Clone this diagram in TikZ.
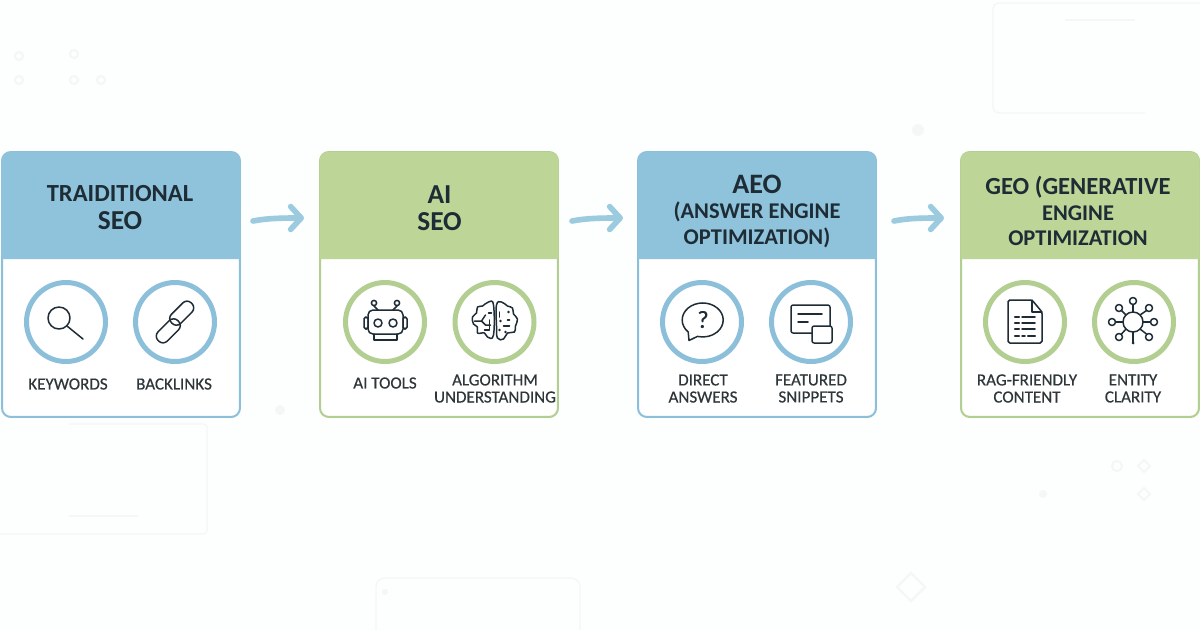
\documentclass[tikz,border=0pt]{standalone}
\usepackage{fontspec}
\usepackage{color}
\usetikzlibrary{arrows.meta}
\setmainfont{Carlito}
\newfontfamily\tagfont[FakeBold=0.4]{Carlito}

\definecolor{pagecol}{HTML}{FDFEFE}
\definecolor{faintcol}{HTML}{F5F7F7}
\definecolor{bluehead}{HTML}{8FC3DC}
\definecolor{blueline}{HTML}{8CC0DA}
\definecolor{greenhead}{HTML}{BDD697}
\definecolor{greenline}{HTML}{B2CE90}
\definecolor{arrowcol}{HTML}{9CCBE0}
\definecolor{inkcol}{HTML}{1E2C35}
\definecolor{labelcol}{HTML}{2E3639}

\begin{document}
\begin{tikzpicture}[%
      x=0.02cm,
      y=-0.02cm,
      card/.style={draw,fill=white,line width=1.15pt,rounded corners=5pt,inner sep=0pt,minimum width=4.76cm,minimum height=5.3cm},
      ring/.style={circle,draw,fill=white,line width=2.85pt,inner sep=0pt,minimum size=1.58cm},
      title/.style={align=center,text=inkcol,font=\fontsize{15.6}{15.4}\selectfont\bfseries},
      longtitle/.style={align=center,text=inkcol,font=\fontsize{12.8}{14.5}\selectfont\bfseries},
      tag/.style={align=center,text=labelcol,font=\fontsize{9.7}{9.7}\selectfont\tagfont},
      icon/.style={draw=inkcol,line width=0.85pt,line cap=round,line join=round},
      flow/.style={draw=arrowcol,line width=3.2pt,line cap=round,-{Straight Barb[round,length=6pt,width=13pt]}},
      faint/.style={draw=faintcol,line width=0.8pt},
      ]
      \fill [pagecol] (0,0) rectangle (1200,630);
      \useasboundingbox (0,0) rectangle (1200,630);

      % faint background marks
      \draw [faint,rounded corners=3pt] (1200,3) -- (993,3) -- (993,113) -- (1145,113);
      \draw [faint] (1065,20) -- (1135,20);
      \draw [faint,rounded corners=2pt] (69,424) -- (207,424) -- (207,534) -- (0,534);
      \draw [faint] (69,516) -- (138,516);
      \draw [faint,rounded corners=5pt] (376,630) -- (376,578) -- (580,578) -- (580,630);
      \fill [faintcol] (918,130) circle (6);
      \fill [faintcol] (280,410) circle (5);
      \fill [faintcol] (385,592) circle (3);
      \draw [faint,line width=1.2pt] (19,56) circle (4);
      \draw [faint,line width=1.2pt] (74,54) circle (4);
      \draw [faint,line width=1.2pt] (19,80) circle (4);
      \draw [faint,line width=1.2pt] (74,80) circle (4);
      \draw [faint,line width=1.2pt] (101,80) circle (4);
      \draw [faint,line width=1.2pt] (1117,466) circle (5);
      \draw [faint,line width=1.2pt] (1144,460) -- (1150,466) -- (1144,472) -- (1138,466) -- cycle;
      \draw [faint,line width=1.2pt] (1144,488) -- (1150,494) -- (1144,500) -- (1138,494) -- cycle;
      \fill [faintcol] (1043,494) circle (4);
      \draw [faint,line width=1.4pt] (911,573) -- (925,587) -- (911,601) -- (897,587) -- cycle;

      % cards
      \node [card,draw=blueline] (card1) at (121,284.5) {};
      \node [card,draw=greenline] (card2) at (439,284.5) {};
      \node [card,draw=blueline] (card3) at (757,284.5) {};
      \node [card,draw=greenline] (card4) at (1080,284.5) {};

      \fill [bluehead] (1.5,259) [rounded corners=5pt] -- (1.5,152) -- (240.5,152) [sharp corners] -- (240.5,259) -- cycle;
      \fill [greenhead] (319.5,259) [rounded corners=5pt] -- (319.5,152) -- (558.5,152) [sharp corners] -- (558.5,259) -- cycle;
      \fill [bluehead] (638,259) [rounded corners=5pt] -- (638,152) -- (876,152) [sharp corners] -- (876,259) -- cycle;
      \fill [greenhead] (960.5,259) [rounded corners=5pt] -- (960.5,152) -- (1199.5,152) [sharp corners] -- (1199.5,259) -- cycle;

      \node [title] (head1) at (120,207.5) {{\fontsize{14}{15.4}\selectfont TRAIDITIONAL}\\SEO};
      \node [title] (head2) at (439.5,208) {AI\\SEO};
      \node [longtitle] (head3) at (757,211) {{\fontsize{16}{14.5}\selectfont AEO}\\(ANSWER ENGINE\\OPTIMIZATION)};
      \node [longtitle] (head4) at (1078,211) {{\fontsize{14}{14.5}\selectfont GEO (GENERATIVE}\\ENGINE\\OPTIMIZATION};

      \draw [flow] ([shift={(12,70)}]card1.north east) .. controls (268,218) and (285,218) .. ([shift={(-15,67)}]card2.north west);
      \draw [flow] ([shift={(13,70)}]card2.north east) .. controls (587,218) and (604,218) .. ([shift={(-14,67)}]card3.north west);
      \draw [flow] ([shift={(17,70)}]card3.north east) .. controls (908,218) and (925,218) .. ([shift={(-16,67)}]card4.north west);

      % rings
      \node [ring,draw=blueline] (ring1a) at (66,322) {};
      \node [ring,draw=blueline] (ring1b) at (175,322) {};
      \node [ring,draw=greenline] (ring2a) at (385,322) {};
      \node [ring,draw=greenline] (ring2b) at (494.5,322) {};
      \node [ring,draw=blueline] (ring3a) at (702,322) {};
      \node [ring,draw=blueline] (ring3b) at (811,322) {};
      \node [ring,draw=greenline] (ring4a) at (1025,322) {};
      \node [ring,draw=greenline] (ring4b) at (1134,322) {};

      % labels
      \node [tag] (tag1a) at (68,384) {KEYWORDS};
      \node [tag] (tag1b) at (174,384) {BACKLINKS};
      \node [tag] (tag2a) at (385,383) {AI TOOLS};
      \node [tag] (tag2b) at (495,388.5) {ALGORITHM\\UNDERSTANDING};
      \node [tag] (tag3a) at (703,388.5) {DIRECT\\ANSWERS};
      \node [tag] (tag3b) at (811,388.5) {FEATURED\\SNIPPETS};
      \node [tag] (tag4a) at (1027,388.5) {RAG-FRIENDLY\\CONTENT};
      \node [tag] (tag4b) at (1133,388.5) {ENTITY\\CLARITY};

      % magnifier
      \begin{scope}[shift={(66,322)}]
      \draw [icon] (-7,-4) circle (11);
      \draw [icon] (1,4) -- (17,17);
      \end{scope}

      % chain
      \begin{scope}[shift={(175,322)}]
      \draw [icon,rounded corners=3.4pt,rotate=45] (-25,-5) rectangle (3,8);
      \draw [icon,rounded corners=3.4pt,rotate=45] (-3,-8) rectangle (25,5);
      \end{scope}

      % robot
      \begin{scope}[shift={(385,322)}]
      \draw [icon,rounded corners=2.8pt] (-17,-12) rectangle (18,12);
      \draw [icon,rounded corners=1pt] (-21,-5) rectangle (-17,7);
      \draw [icon,rounded corners=1pt] (18,-5) rectangle (22,7);
      \draw [icon] (-11,12) -- (-11,18) -- (12,18) -- (12,12);
      \draw [icon] (-11,-16) -- (-7,-12);
      \draw [icon] (12,-16) -- (8,-12);
      \draw [icon] (-11,-19) circle (2.6);
      \draw [icon] (12,-19) circle (2.6);
      \draw [icon] (-7,1) circle (4);
      \draw [icon] (8,1) circle (4);
      \end{scope}

      % brain
      \begin{scope}[shift={(494.5,322)}]
      \draw [icon] plot [smooth cycle,tension=0.7] coordinates {(-1,-17) (-6,-20) (-12,-16) (-17,-15) (-18,-9) (-22,-5) (-21,2) (-17,5) (-17,11) (-10,11) (-7,15) (-1,13)};
      \draw [icon] plot [smooth cycle,tension=0.7] coordinates {(2,-17) (7,-20) (13,-16) (18,-14) (19,-8) (23,-3) (21,4) (20,10) (13,11) (9,17) (3,16) (2,4)};
      \draw [icon] (-20,-1) -- (-13,-1) -- (-9,-7);
      \draw [icon] (-13,-1) -- (-9,3) -- (-4,3);
      \draw [icon] (-6,-9) -- (-3,-9);
      \draw [icon] (-5,-2) -- (-5,8) -- (-10,8);
      \draw [icon] (5,-10) -- (5,-5);
      \draw [icon] (13,-2) -- (15,-2);
      \draw [icon] (9,4) -- (15,4);
      \fill [inkcol] (6,-1) circle (1.3);
      \fill [inkcol] (14,-10) circle (1.3);
      \fill [inkcol] (5,8) circle (1.3);
      \fill [inkcol] (11,10) circle (1.3);
      \end{scope}

      % speech bubble
      \begin{scope}[shift={(702,322)}]
      \draw [icon] (-13.8,10) arc [start angle=135,end angle=465,x radius=20.5,y radius=17] -- (-13,18.5) -- cycle;
      \node [text=inkcol,font=\fontsize{14}{14}\selectfont\tagfont] (quest) at (1,-2.5) {?};
      \end{scope}

      % snippet
      \begin{scope}[shift={(811,322)}]
      \draw [icon,rounded corners=1.2pt] (1,11) -- (-20,11) -- (-20,-17) -- (19,-17) -- (19,4);
      \draw [icon] (-13,-8) -- (11,-8);
      \draw [icon] (-13,0) -- (-3,0);
      \draw [icon,fill=white,rounded corners=1.2pt] (1,4) rectangle (21,21);
      \end{scope}

      % document
      \begin{scope}[shift={(1025,322)}]
      \draw [icon,rounded corners=1pt] (7,-22) -- (-17,-22) -- (-17,21) -- (17,21) -- (17,-10) -- cycle;
      \draw [icon] (7,-22) -- (7,-10) -- (17,-10);
      \draw [icon,line width=1.3pt] (-10,-5) -- (-6,-5);
      \draw [icon,line width=1.3pt] (-10,1) -- (-6,1);
      \draw [icon,line width=1.3pt] (-10,7) -- (-6,7);
      \draw [icon,line width=1.3pt] (-10,14) -- (-6,14);
      \draw [icon] (-3,-5) -- (10,-5);
      \draw [icon] (-3,1) -- (10,1);
      \draw [icon] (-3,7) -- (10,7);
      \draw [icon] (-3,14) -- (0,14);
      \draw [icon,line width=1.3pt] (3,14) -- (10,14);
      \end{scope}

      % entity network
      \begin{scope}[shift={(1133,322)}]
      \draw [icon] (0,-10) -- (0,-17.5);
      \draw [icon] (7,-7) -- (13.5,-11.5);
      \draw [icon] (10,0) -- (17.5,0);
      \draw [icon] (7,7) -- (13.5,12);
      \draw [icon] (0,10) -- (0,21);
      \draw [icon] (-7,7) -- (-11.5,12);
      \draw [icon] (-10,0) -- (-17.5,0);
      \draw [icon] (-7,-7) -- (-11.5,-11.5);
      \draw [icon] (0,0) circle (10);
      \draw [icon] (0,-21) circle (3.5);
      \draw [icon] (16,-14) circle (3.5);
      \draw [icon] (21,0) circle (3.5);
      \draw [icon] (16,15) circle (3.5);
      \draw [icon] (-14,15) circle (3.5);
      \draw [icon] (-21,0) circle (3.5);
      \draw [icon] (-14,-14) circle (3.5);
      \fill [inkcol] (0,21) circle (1.5);
      \end{scope}
\end{tikzpicture}
\end{document}
